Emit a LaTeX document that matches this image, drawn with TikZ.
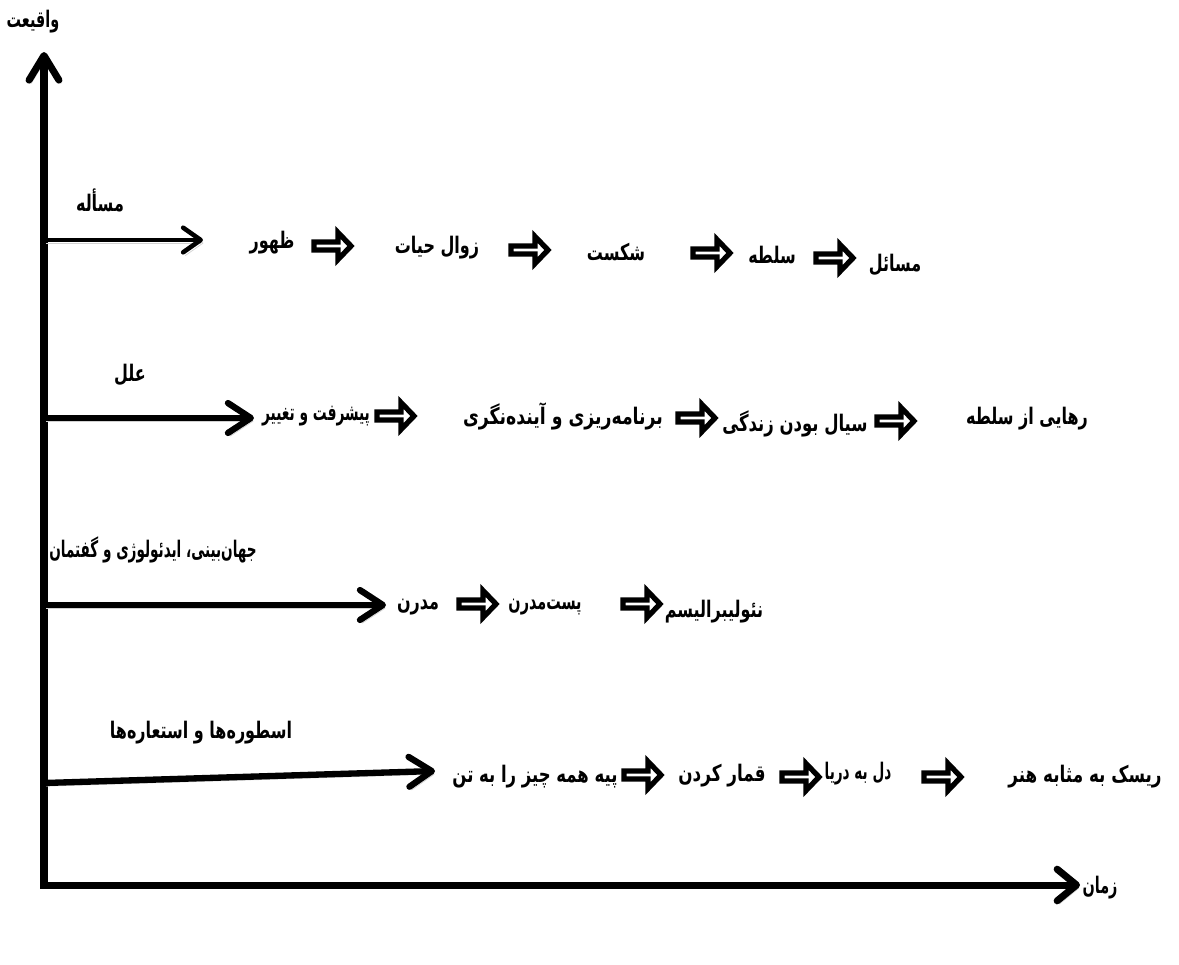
\documentclass[tikz,border=0pt]{standalone}
\usepackage{fontspec}
\TeXXeTstate=1
\newfontfamily\arabicfont[Script=Arabic,FakeStretch=0.7]{DejaVu Sans}
\usetikzlibrary{arrows.meta}
\newcommand\sx[2]{\scalebox{#1}[1]{#2}}
\tikzset{
  lbl/.style={font=\arabicfont\bfseries\fontsize{13}{15}\selectfont, inner sep=0pt},
  shadowed/.style={preaction={draw=black!18, transform canvas={shift={(1.3pt,-1.8pt)}}}},
  bigbarb/.style={line width=4pt, line join=miter},
  rowline/.style={line width=3.6pt, shadowed},
  blockarrow/.pic={\draw[line width=3pt, fill=white, line join=miter]
     (-19,-4) -- (5,-4) -- (5,-13.5) -- (18,0) -- (5,13.5) -- (5,4) -- (-19,4) -- cycle;}
}
\begin{document}
\begin{tikzpicture}[x=0.02cm,y=-0.02cm]
\useasboundingbox (0,0) rectangle (1179,964);
% axes
\coordinate (ytop) at (44,52);
\coordinate (O) at (44,885);
\coordinate (xend) at (1080,885);
\draw[bigbarb, shadowed, {Straight Barb[round,length=14pt,width=17pt]}-{Straight Barb[round,length=11pt,width=18pt]}] (ytop) -- (O) -- (xend);
\node[lbl] (yl) at (33,22) {\sx{0.9}{\beginR واقیعت\endR}};
\node[lbl] (xl) at (1100,888) {\sx{0.9}{\beginR زمان\endR}};

% row 1
\coordinate (r1s) at (44,240);
\coordinate (r1e) at (203,240);
\draw[line width=2.6pt, shadowed, -{Straight Barb[round,length=10pt,width=14pt]}] (r1s) -- (r1e);
\node[lbl] (h1) at (100,200) {\beginR مسأله\endR};
\node[lbl] (a1) at (272,243) {\beginR ظهور\endR};
\pic at (333,246) {blockarrow};
\node[lbl] (a2) at (437,248) {\beginR زوال حیات\endR};
\pic at (530,250) {blockarrow};
\node[lbl] (a3) at (616,252) {\beginR شکست\endR};
\pic at (712,253) {blockarrow};
\node[lbl] (a4) at (772,255) {\beginR سلطه\endR};
\pic at (835,258) {blockarrow};
\node[lbl] (a5) at (895,265) {\beginR مسائل\endR};

% row 2
\coordinate (r2s) at (44,418);
\coordinate (r2e) at (254,418);
\draw[rowline, -{Straight Barb[round,length=13pt,width=17pt]}] (r2s) -- (r2e);
\node[lbl] (h2) at (130,375) {\beginR علل\endR};
\node[lbl] (b1) at (316,416) {\sx{0.86}{\beginR پیشرفت و تغییر\endR}};
\pic at (396,416) {blockarrow};
\node[lbl] (b2) at (563,416) {\sx{1.08}{\beginR برنامه‌ریزی و آینده‌نگری\endR}};
\pic at (697,418) {blockarrow};
\node[lbl] (b3) at (795,424) {\sx{1.03}{\beginR سیال بودن زندگی\endR}};
\pic at (896,421) {blockarrow};
\node[lbl] (b4) at (1027,419) {\beginR رهایی از سلطه\endR};

% row 3
\coordinate (r3s) at (44,605);
\coordinate (r3e) at (386,605);
\draw[rowline, -{Straight Barb[round,length=13pt,width=17pt]}] (r3s) -- (r3e);
\node[lbl] (h3) at (153,550) {\sx{0.85}{\beginR جهان‌بینی، ایدئولوژی و گفتمان\endR}};
\node[lbl] (c1) at (418,607) {\beginR مدرن\endR};
\pic at (478,604) {blockarrow};
\node[lbl] (c2) at (545,607) {\sx{0.9}{\beginR پست‌مدرن\endR}};
\pic at (642,604) {blockarrow};
\node[lbl] (c3) at (714,612) {\beginR نئولیبرالیسم\endR};

% row 4
\coordinate (r4s) at (44,783);
\coordinate (r4e) at (435,771);
\draw[rowline, -{Straight Barb[round,length=13pt,width=17pt]}] (r4s) -- (r4e);
\node[lbl] (h4) at (201,733) {\beginR اسطوره‌ها و استعاره‌ها\endR};
\node[lbl] (d1) at (535,777) {\sx{1.03}{\beginR پیه همه چیز را به تن\endR}};
\pic at (643,775) {blockarrow};
\node[lbl] (d2) at (722,776) {\sx{1.05}{\beginR قمار کردن\endR}};
\pic at (801,777) {blockarrow};
\node[lbl] (d3) at (858,774) {\sx{0.85}{\beginR دل به دریا\endR}};
\pic at (943,777) {blockarrow};
\node[lbl] (d4) at (1085,777) {\sx{1.05}{\beginR ریسک به مثابه هنر\endR}};
\end{tikzpicture}
\end{document}
